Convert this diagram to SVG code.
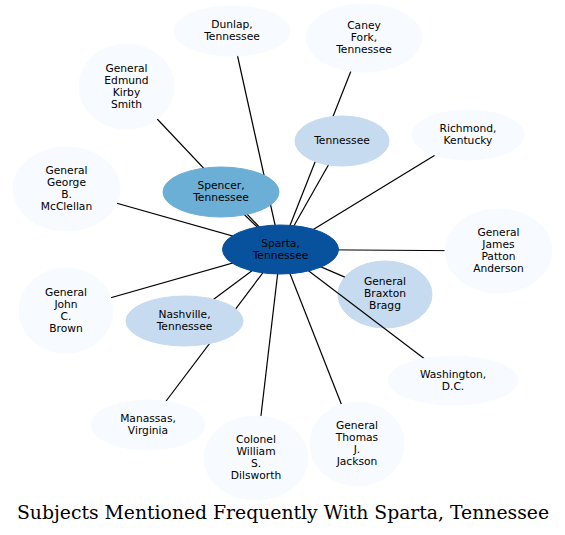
<svg xmlns="http://www.w3.org/2000/svg" width="565" height="535" viewBox="0 0 565 535">
<style>
  .n text { font-family: "DejaVu Sans", sans-serif; font-size: 10.7px; fill: #000; text-anchor: middle; }
  .l0 { fill: #f7fbff; stroke: #f7fbff; }
  .l1 { fill: #c6dbef; stroke: #c6dbef; }
  .l2 { fill: #6baed6; stroke: #6baed6; }
  .l3 { fill: #08519c; stroke: #08519c; }
  .e line { stroke: #000; stroke-width: 1.2; }
  .title { font-family: "DejaVu Serif", serif; font-size: 18.5px; fill: #000; text-anchor: middle; }
</style>
<rect width="565" height="535" fill="#fff"/>
<g id="node-bragg" class="n">
  <ellipse class="l1" cx="385" cy="294.5" rx="47" ry="33.5"/>
  <text x="385" y="285">General</text>
  <text x="385" y="297">Braxton</text>
  <text x="385" y="309">Bragg</text>
</g>
<g id="connectors" class="e">
  <line x1="280.5" y1="249.5" x2="232" y2="31"/>
  <line x1="280.5" y1="249.5" x2="364" y2="38"/>
  <line x1="280.5" y1="249.5" x2="126.5" y2="86.5"/>
  <line x1="280.5" y1="249.5" x2="221" y2="192"/>
  <line x1="280.5" y1="249.5" x2="342" y2="141"/>
  <line x1="280.5" y1="249.5" x2="468" y2="135"/>
  <line x1="280.5" y1="249.5" x2="66.5" y2="189"/>
  <line x1="280.5" y1="249.5" x2="498.5" y2="251"/>
  <line x1="280.5" y1="249.5" x2="66" y2="310.5"/>
  <line x1="280.5" y1="249.5" x2="184.5" y2="321"/>
  <line x1="280.5" y1="249.5" x2="344.8" y2="277.1"/>
  <line x1="280.5" y1="249.5" x2="453" y2="380.5"/>
  <line x1="280.5" y1="249.5" x2="148" y2="425"/>
  <line x1="280.5" y1="249.5" x2="256" y2="458"/>
  <line x1="280.5" y1="249.5" x2="357" y2="444"/>
</g>
<g id="node-dunlap" class="n">
  <ellipse class="l0" cx="232" cy="31" rx="58" ry="25"/>
  <text x="232" y="28">Dunlap,</text>
  <text x="232" y="40">Tennessee</text>
</g>
<g id="node-caney" class="n">
  <ellipse class="l0" cx="364" cy="38" rx="58" ry="34"/>
  <text x="364" y="29">Caney</text>
  <text x="364" y="41">Fork,</text>
  <text x="364" y="53">Tennessee</text>
</g>
<g id="node-smith" class="n">
  <ellipse class="l0" cx="126.5" cy="86.5" rx="47.5" ry="42.5"/>
  <text x="126.5" y="71.5">General</text>
  <text x="126.5" y="83.5">Edmund</text>
  <text x="126.5" y="95.5">Kirby</text>
  <text x="126.5" y="107.5">Smith</text>
</g>
<g id="node-tennessee" class="n">
  <ellipse class="l1" cx="342" cy="141" rx="47" ry="25"/>
  <text x="342" y="144">Tennessee</text>
</g>
<g id="node-richmond" class="n">
  <ellipse class="l0" cx="468" cy="135" rx="56" ry="25"/>
  <text x="468" y="132">Richmond,</text>
  <text x="468" y="144">Kentucky</text>
</g>
<g id="node-mcclellan" class="n">
  <ellipse class="l0" cx="66.5" cy="189" rx="53.5" ry="42"/>
  <text x="66.5" y="174">General</text>
  <text x="66.5" y="186">George</text>
  <text x="66.5" y="198">B.</text>
  <text x="66.5" y="210">McClellan</text>
</g>
<g id="node-spencer" class="n">
  <ellipse class="l2" cx="221" cy="192" rx="58" ry="25"/>
  <text x="221" y="189">Spencer,</text>
  <text x="221" y="201">Tennessee</text>
</g>
<g id="node-anderson" class="n">
  <ellipse class="l0" cx="498.5" cy="251" rx="53.5" ry="42"/>
  <text x="498.5" y="236">General</text>
  <text x="498.5" y="248">James</text>
  <text x="498.5" y="260">Patton</text>
  <text x="498.5" y="272">Anderson</text>
</g>
<g id="node-brown" class="n">
  <ellipse class="l0" cx="66" cy="310.5" rx="47" ry="42.5"/>
  <text x="66" y="295.5">General</text>
  <text x="66" y="307.5">John</text>
  <text x="66" y="319.5">C.</text>
  <text x="66" y="331.5">Brown</text>
</g>
<g id="node-nashville" class="n">
  <ellipse class="l1" cx="184.5" cy="321" rx="58.5" ry="25"/>
  <text x="184.5" y="318">Nashville,</text>
  <text x="184.5" y="330">Tennessee</text>
</g>
<g id="node-washington" class="n">
  <ellipse class="l0" cx="453" cy="380.5" rx="65" ry="24.5"/>
  <text x="453" y="377.5">Washington,</text>
  <text x="453" y="389.5">D.C.</text>
</g>
<g id="node-manassas" class="n">
  <ellipse class="l0" cx="148" cy="425" rx="57" ry="25"/>
  <text x="148" y="422">Manassas,</text>
  <text x="148" y="434">Virginia</text>
</g>
<g id="node-dilsworth" class="n">
  <ellipse class="l0" cx="256" cy="458" rx="52" ry="42"/>
  <text x="256" y="443">Colonel</text>
  <text x="256" y="455">William</text>
  <text x="256" y="467">S.</text>
  <text x="256" y="479">Dilsworth</text>
</g>
<g id="node-jackson" class="n">
  <ellipse class="l0" cx="357" cy="444" rx="47" ry="42"/>
  <text x="357" y="429">General</text>
  <text x="357" y="441">Thomas</text>
  <text x="357" y="453">J.</text>
  <text x="357" y="465">Jackson</text>
</g>
<g id="node-sparta" class="n">
  <ellipse class="l3" cx="280.5" cy="249.5" rx="58" ry="24.5"/>
  <text x="280.5" y="246.5">Sparta,</text>
  <text x="280.5" y="258.5">Tennessee</text>
</g>
<text class="title" x="283" y="519" textLength="532" lengthAdjust="spacingAndGlyphs">Subjects Mentioned Frequently With Sparta, Tennessee</text>
</svg>
